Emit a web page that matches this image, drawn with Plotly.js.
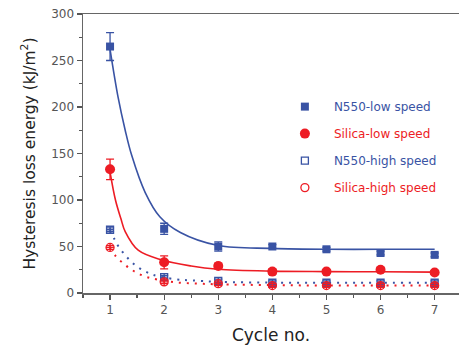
<!DOCTYPE html>
<html><head><meta charset="utf-8">
<script src="https://cdn.plot.ly/plotly-3.0.1.min.js"></script>
<style>html,body{margin:0;padding:0;background:#fff}#c{width:459px;height:349px}</style>
</head><body><div id="c"></div>
<script>
// Data
const cycles = [1, 2, 3, 4, 5, 6, 7];
const n550Low = [265, 69, 50, 50, 47, 43, 41];
const n550LowErr = [15, 6, 5, 2, 2, 2, 2];
const silicaLow = [133, 33, 29, 23, 23, 25, 22];
const silicaLowErr = [11, 7, 3, 3, 2, 2, 2];
const n550High = [68, 17, 13, 11, 11, 11, 11];
const n550HighErr = [2, 2, 2, 2, 2, 2, 2];
const silicaHigh = [49, 12, 10, 8, 8, 8, 8];
const silicaHighErr = [2, 2, 2, 2, 2, 2, 2];

// Fitted curves at these cycle positions
const fitN550LowX = [1, 1.15, 1.28, 1.4, 1.65, 1.92, 2.3, 3, 4, 5, 6, 7];
const fitN550LowY = [262, 210, 175, 148, 108, 82, 65, 51, 48, 47, 47, 47];
const fitSilicaLowX = [1, 1.1, 1.2, 1.28, 1.52, 1.96, 2.5, 3, 4, 5, 6, 7];
const fitSilicaLowY = [130, 100, 80, 66, 46, 35.5, 29, 25.5, 23.5, 23, 22.8, 22.5];
const fitN550HighX = [1, 1.08, 1.15, 1.26, 1.38, 1.52, 1.66, 1.8, 2.22, 2.5, 3, 4, 5, 6, 7];
const fitN550HighY = [67, 58, 50.5, 42, 34.4, 27.6, 23, 19.4, 14.7, 13.6, 12, 11.2, 11, 11, 11];
const fitSilicaHighX = [1, 1.1, 1.23, 1.38, 1.52, 1.66, 1.8, 2.2, 2.6, 3, 4, 5, 6, 7];
const fitSilicaHighY = [48, 40, 32.6, 25.8, 21, 17.5, 15.4, 11.5, 10.2, 9.3, 8.5, 8, 8, 8];

const legendNames = ['N550-low speed', 'Silica-low speed', 'N550-high speed', 'Silica-high speed'];

const BLUE = '#3953a4';
const RED = '#ed1c24';

function errY(arr, color) {
  return {type: 'data', array: arr, visible: true, color: color, thickness: 1.3, width: 4};
}

const traces = [
  // fit lines
  {x: fitN550LowX, y: fitN550LowY, mode: 'lines', line: {color: BLUE, width: 1.6, shape: 'spline'}, showlegend: false, hoverinfo: 'skip'},
  {x: fitSilicaLowX, y: fitSilicaLowY, mode: 'lines', line: {color: RED, width: 1.6, shape: 'spline'}, showlegend: false, hoverinfo: 'skip'},
  {x: fitN550HighX, y: fitN550HighY, mode: 'lines', line: {color: BLUE, width: 2, dash: '2px,6px', shape: 'spline'}, showlegend: false, hoverinfo: 'skip'},
  {x: fitSilicaHighX, y: fitSilicaHighY, mode: 'lines', line: {color: RED, width: 2, dash: '2px,6px', shape: 'spline'}, showlegend: false, hoverinfo: 'skip'},
  // data points
  {x: cycles, y: n550Low, mode: 'markers', name: '<span style="color:' + BLUE + '">' + legendNames[0] + '</span>',
   marker: {symbol: 'square', size: 8, color: BLUE}, error_y: errY(n550LowErr, BLUE), legendgroup: 'a', legendrank: 1},
  {x: cycles, y: silicaLow, mode: 'markers', name: '<span style="color:' + RED + '">' + legendNames[1] + '</span>',
   marker: {symbol: 'circle', size: 10, color: RED}, error_y: errY(silicaLowErr, RED), legendgroup: 'b', legendrank: 2},
  {x: cycles, y: n550High, mode: 'markers', showlegend: false,
   marker: {symbol: 'square-cross-open', size: 7, color: BLUE, line: {width: 1.3}}, error_y: errY(n550HighErr, BLUE)},
  {x: cycles, y: silicaHigh, mode: 'markers', showlegend: false,
   marker: {symbol: 'circle-cross-open', size: 8, color: RED, line: {width: 1.3}}, error_y: errY(silicaHighErr, RED)},
  // legend entries for open symbols
  {x: [null], y: [null], mode: 'markers', name: '<span style="color:' + BLUE + '">' + legendNames[2] + '</span>',
   marker: {symbol: 'square-open', size: 7, color: BLUE, line: {width: 1.3}}, legendgroup: 'c', legendrank: 3},
  {x: [null], y: [null], mode: 'markers', name: '<span style="color:' + RED + '">' + legendNames[3] + '</span>',
   marker: {symbol: 'circle-open', size: 8, color: RED, line: {width: 1.3}}, legendgroup: 'd', legendrank: 4}
];

const layout = {
  width: 459, height: 349,
  margin: {l: 83, r: 0, t: 14, b: 56},
  paper_bgcolor: '#fff', plot_bgcolor: '#fff',
  font: {family: 'DejaVu Sans, sans-serif', color: '#555'},
  showlegend: true,
  legend: {x: 0.513, y: 0.72, xanchor: 'left', yanchor: 'top', bgcolor: 'rgba(0,0,0,0)',
           font: {size: 12, family: 'DejaVu Sans, sans-serif'}, itemwidth: 48, tracegroupgap: 8, traceorder: 'grouped'},
  xaxis: {
    range: [0.5, 7.45], tickmode: 'array', tickvals: cycles, ticks: 'outside', ticklen: 5, tickwidth: 1.3, tickcolor: '#555',
    minor: {dtick: 0.5, ticks: 'outside', ticklen: 3, tickwidth: 1.3, tickcolor: '#555'},
    showline: true, linecolor: '#666', linewidth: 1.5, mirror: true, showgrid: false, zeroline: false,
    tickfont: {size: 12, color: '#555'},
    title: {text: 'Cycle no.', font: {size: 17, color: '#222', family: 'DejaVu Sans, sans-serif'}, standoff: 13}
  },
  yaxis: {
    range: [0, 300], dtick: 50, ticks: 'outside', ticklen: 5, tickwidth: 1.3, tickcolor: '#555',
    minor: {dtick: 25, ticks: 'outside', ticklen: 3, tickwidth: 1.3, tickcolor: '#555'},
    showline: true, linecolor: '#666', linewidth: 1.5, showgrid: false, zeroline: false,
    tickfont: {size: 12, color: '#555'},
    title: {text: 'Hysteresis loss energy (kJ/m<sup>2</sup>)', font: {size: 15.5, color: '#222', family: 'DejaVu Sans, sans-serif'}, standoff: 12}
  }
};

Plotly.newPlot('c', traces, layout, {displayModeBar: false, staticPlot: true});
</script>
</body></html>
